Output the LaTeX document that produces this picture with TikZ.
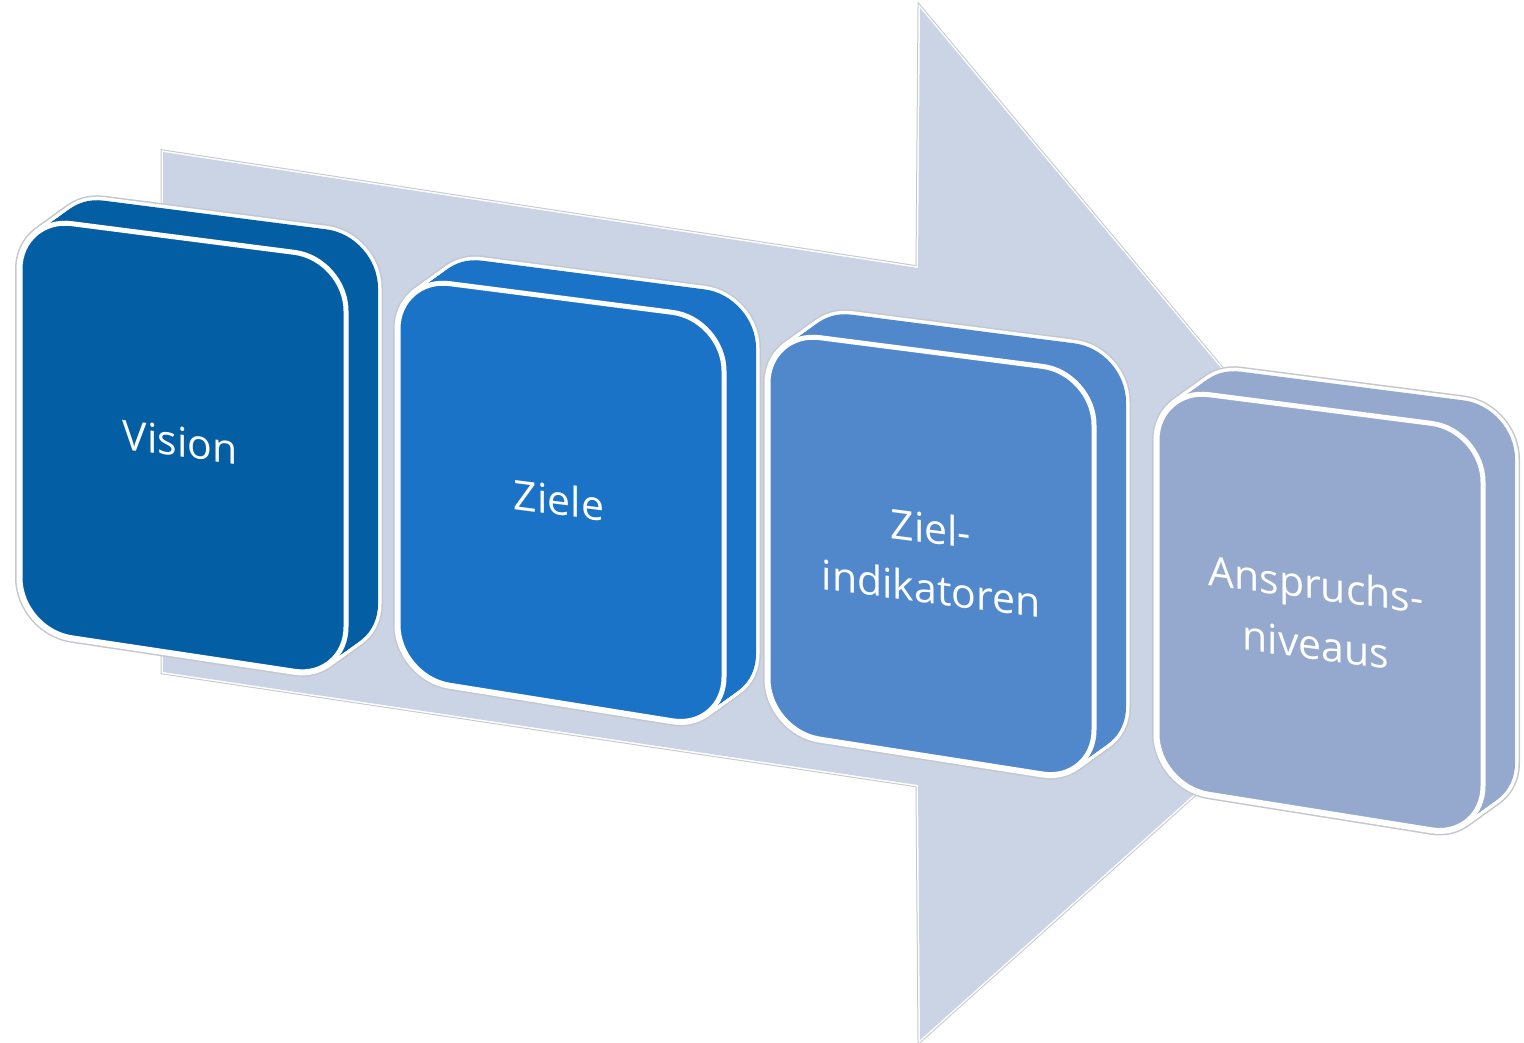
\documentclass[tikz,border=0pt]{standalone}
\usepackage{fontspec}
\setmainfont{Open Sans}
\definecolor{arrowcol}{HTML}{CAD4E4}
\definecolor{cA}{HTML}{045EA4}
\definecolor{cB}{HTML}{1A73C7}
\definecolor{cC}{HTML}{5188CC}
\definecolor{cD}{HTML}{94A9CD}
\definecolor{edgegray}{HTML}{C4C8CE}
\newcommand\quadbox[4]{(#1,#2) -- ++(326,42) -- ++(0,#4) -- (#1,#2+#3) -- cycle}
\newcommand\drawcube[5]{%
  \foreach \k in {0,...,12}{\draw[edgegray,line width=10,rounded corners=52,shift={(32*\k/12,-23*\k/12)}] \quadbox{#1}{#2}{#3}{#4};}
  \foreach \k in {0,...,12}{\draw[white,line width=7,rounded corners=52,shift={(32*\k/12,-23*\k/12)}] \quadbox{#1}{#2}{#3}{#4};}
  \foreach \k in {0,...,12}{\fill[#5,rounded corners=52,shift={(32*\k/12,-23*\k/12)}] \quadbox{#1}{#2}{#3}{#4};}
  \filldraw[fill=#5,draw=white,line width=5,rounded corners=52] \quadbox{#1}{#2}{#3}{#4};
}
\tikzset{lbl/.style={text=white,font=\fontsize{41}{60}\selectfont,align=center,yslant=-0.13,inner sep=0pt}}
\begin{document}
\begin{tikzpicture}[x=1pt,y=-1pt]
\useasboundingbox (0,0) rectangle (1524,1042);
\def\arrowpath{(163,152) -- (918,268) -- (920,8) -- (1413,598) -- (920,1040) -- (918,785) -- (163,672) -- cycle}
\draw[edgegray,line width=5,line join=miter] \arrowpath;
\draw[white,line width=3,line join=miter] \arrowpath;
\fill[arrowcol] \arrowpath;
\drawcube{20}{217}{413}{420}{cA}
\drawcube{398}{277}{400}{410}{cB}
\drawcube{768}{331}{400}{409}{cC}
\drawcube{1157}{388}{398}{408}{cD}
\node[lbl] (t1) at (180,442) {Vision};
\node[lbl] (t2) at (559,500) {Ziele};
\node[lbl] (t3) at (931,558) {Ziel-\\indikatoren};
\node[lbl] (t4) at (1316,614) {Anspruchs-\\niveaus};
\end{tikzpicture}
\end{document}
